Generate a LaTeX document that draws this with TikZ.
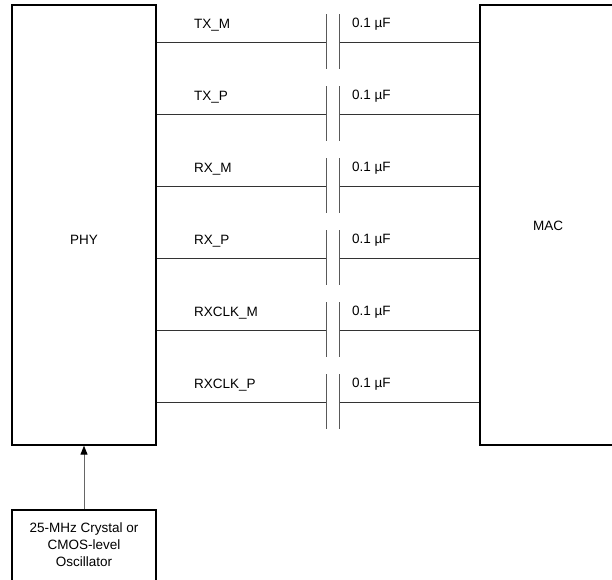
\documentclass[tikz,border=0pt]{standalone}
\usepackage{fontspec}
\setmainfont{Liberation Sans}
\usetikzlibrary{arrows.meta}

\tikzset{
    block/.style={draw=black, line width=1.3pt, rectangle, inner sep=0pt},
    wire/.style={draw=black!80, line width=0.8pt},
    plate/.style={draw=black!65, line width=1pt},
    txt/.style={font=\fontsize{13.5}{17}\selectfont, inner sep=0pt}
}

\begin{document}
\begin{tikzpicture}[x=1pt, y=-1pt]
    \useasboundingbox (0,0) rectangle (612,579);
    \clip (0,0) rectangle (612,579);
    % blocks
    \node[block, minimum width=144pt, minimum height=440pt] (phy) at (84,225) {};
    \node[block, minimum width=140pt, minimum height=440pt] (mac) at (550,225) {};
    \node[block, minimum width=144pt, minimum height=100pt] (osc) at (84,560) {};
    \node[txt] (phytext) at (84,240) {PHY};
    \node[txt] (mactext) at (548,226) {MAC};
    \node[txt, align=center] (osctext) at (84,545) {25-MHz Crystal or\\CMOS-level\\Oscillator};
    % clock input
    \draw[draw=black!60, line width=0.9pt, -{Triangle[width=7pt,length=9pt,black]}]
        (osc.north) -- (phy.south);
    % ac-coupled lanes
    \foreach \sig [count=\i from 0] in {TX\_M, TX\_P, RX\_M, RX\_P, RXCLK\_M, RXCLK\_P} {
        \pgfmathsetmacro{\yy}{42+72*\i}
        \coordinate (pa\i) at (326,\yy);
        \coordinate (pb\i) at (339,\yy);
        \draw[wire] (phy.east |- pa\i) -- (pa\i);
        \draw[wire] (pb\i) -- (mac.west |- pb\i);
        \draw[plate] ([yshift=28pt]pa\i) -- ([yshift=-27pt]pa\i);
        \draw[plate] ([yshift=28pt]pb\i) -- ([yshift=-27pt]pb\i);
        \node[txt, anchor=west] (sig\i) at (194,\yy-17) {\sig};
        \node[txt, anchor=west] (cap\i) at (352,\yy-18) {0.1 µF};
    }
\end{tikzpicture}
\end{document}
